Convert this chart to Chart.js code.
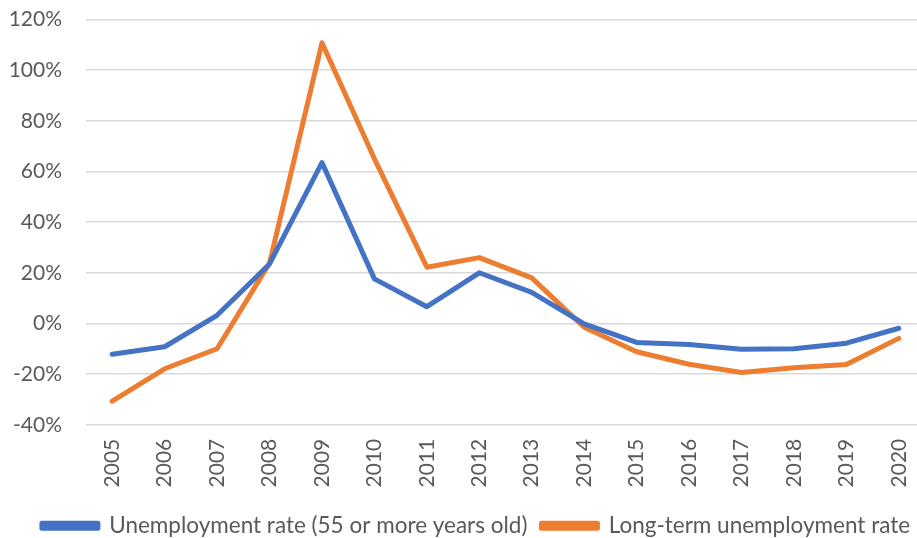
<!DOCTYPE html>
<html>
<head>
<meta charset="utf-8">
<script src="https://cdn.jsdelivr.net/npm/chart.js@4/dist/chart.umd.min.js"></script>
<style>
  html, body { margin: 0; padding: 0; background: #fff; overflow: hidden; }
  #wrap { position: relative; width: 925px; height: 547px; }
</style>
</head>
<body>
<div id="wrap"><canvas id="c"></canvas></div>
<script>
// Year-on-year change, percent
const years = ['2005','2006','2007','2008','2009','2010','2011','2012','2013','2014','2015','2016','2017','2018','2019','2020'];
const olderWorkers = [-12.2, -9.2, 3.2, 23.5, 63.5, 17.6, 6.6, 20, 12.3, -0.2, -7.5, -8.3, -10.2, -10, -7.8, -1.9];
const longTerm = [-30.7, -17.9, -10, 23.8, 110.8, 65, 22.2, 26, 18, -1.5, -11.2, -16.1, -19.4, -17.5, -16.2, -5.9];
const seriesNames = ['Unemployment rate (55 or more years old)', 'Long-term unemployment rate'];
const yTicks = [-40, -20, 0, 20, 40, 60, 80, 100, 120];

const textColor = '#595959';
const fontFamily = 'Lato, "Open Sans", sans-serif';

// Nudge the bottom legend so it is centred under the plot rather than the whole canvas
const legendShift = {
  id: 'legendShift',
  afterLayout(chart) {
    if (chart.legend) chart.legend.left = 27;
  }
};

new Chart(document.getElementById('c'), {
  type: 'line',
  data: {
    labels: years,
    datasets: [
      { label: seriesNames[0], data: olderWorkers, borderColor: '#4472C4', backgroundColor: '#4472C4' },
      { label: seriesNames[1], data: longTerm, borderColor: '#ED7D31', backgroundColor: '#ED7D31' }
    ]
  },
  plugins: [legendShift],
  options: {
    responsive: true,
    maintainAspectRatio: false,
    animation: false,
    layout: { padding: { left: 10, right: 0, top: 19.5, bottom: 0 } },
    elements: {
      line: { borderWidth: 5, tension: 0, borderJoinStyle: 'round', borderCapStyle: 'round' },
      point: { radius: 0, hoverRadius: 0 }
    },
    scales: {
      x: {
        offset: true,
        grid: { display: false, drawTicks: false },
        border: { display: false },
        ticks: {
          color: textColor,
          font: { family: fontFamily, size: 21 },
          minRotation: 90, maxRotation: 90,
          padding: 14,
          autoSkip: false
        },
        afterFit: (axis) => {
          axis.height = 75.75;
          axis.paddingLeft = 0;
          axis.paddingRight = 0;
        }
      },
      y: {
        min: -40, max: 120,
        afterBuildTicks: (axis) => { axis.ticks = yTicks.map(v => ({ value: v })); },
        grid: { color: '#d9d9d9', lineWidth: 1.5, drawTicks: false },
        border: { display: false },
        ticks: {
          color: textColor,
          font: { family: fontFamily, size: 21 },
          padding: 24,
          callback: (v) => v + '%'
        },
        afterFit: (axis) => {
          axis.width = 76;
          axis.paddingTop = 0;
          axis.paddingBottom = 0;
        }
      }
    },
    plugins: {
      legend: {
        position: 'bottom',
        labels: {
          color: textColor,
          font: { family: fontFamily, size: 22.5 },
          boxWidth: 56,
          boxHeight: 5,
          padding: 14
        }
      },
      tooltip: { enabled: false }
    }
  }
});
</script>
</body>
</html>
